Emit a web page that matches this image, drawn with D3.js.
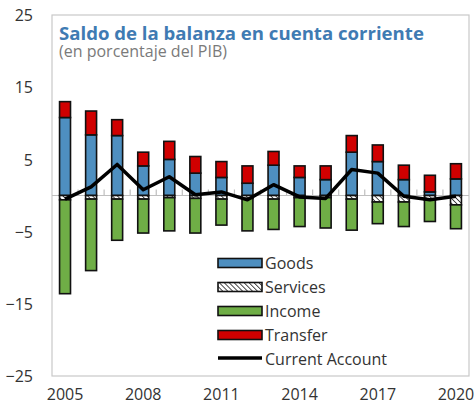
<!DOCTYPE html>
<html>
<head>
<meta charset="utf-8">
<script src="https://cdn.jsdelivr.net/npm/d3@7"></script>
<style>
  html, body { margin: 0; padding: 0; background: #fff; }
  svg { display: block; font-family: "Open Sans", "Noto Sans", sans-serif; }
</style>
</head>
<body>
<svg id="chart" width="476" height="406"></svg>
<script>
// Balance components, % of GDP
const years = ["2005","2006","2007","2008","2009","2010","2011","2012","2013","2014","2015","2016","2017","2018","2019","2020"];
const goods    = [10.8, 8.4, 8.3, 4.1, 5.0, 3.1, 2.5, 1.7, 4.2, 2.5, 2.2, 6.0, 4.7, 2.2, 0.5, 2.3];
const services = [-0.6, -0.5, -0.5, -0.5, -0.3, -0.4, -0.5, -0.4, -0.5, -0.3, -0.3, -0.5, -0.9, -0.9, -0.6, -1.3];
const income   = [-13.0, -9.9, -5.7, -4.7, -4.6, -4.8, -3.6, -4.5, -4.2, -4.0, -4.2, -4.3, -3.0, -3.4, -3.0, -3.3];
const transfer = [2.2, 3.3, 2.2, 1.9, 2.5, 2.3, 2.2, 2.4, 1.9, 1.6, 1.9, 2.3, 2.3, 2.0, 2.3, 2.1];
const currentAccount = [-0.5, 1.2, 4.3, 0.8, 2.6, 0.1, 0.5, -0.6, 1.5, -0.2, -0.4, 3.6, 3.1, -0.1, -0.6, -0.1];
const yTicks = [25, 15, 5, -5, -15, -25];
const xLabels = ["2005","2008","2011","2014","2017","2020"];

const seriesNames = ["Goods", "Services", "Income", "Transfer"];
const seriesColors = { Goods: "#4e8fc0", Services: "url(#hatch)", Income: "#6fae46", Transfer: "#d00000" };
const seriesValues = { Goods: goods, Services: services, Income: income, Transfer: transfer };

const rows = years.map((yr, i) => {
  const r = { year: yr };
  seriesNames.forEach(s => r[s] = seriesValues[s][i]);
  return r;
});

const svg = d3.select("#chart");
const plot = { left: 52, right: 469, top: 15, bottom: 376 };

// Hatch pattern for services
const defs = svg.append("defs");
const pat = defs.append("pattern")
  .attr("id", "hatch")
  .attr("patternUnits", "userSpaceOnUse")
  .attr("width", 3.5).attr("height", 3.5)
  .attr("patternTransform", "rotate(-45)");
pat.append("rect").attr("width", 3.5).attr("height", 3.5).attr("fill", "#fff");
pat.append("line").attr("x1", 0).attr("y1", 0).attr("x2", 0).attr("y2", 3.5)
  .attr("stroke", "#222").attr("stroke-width", 1.6);

const x = d3.scaleBand().domain(years)
  .range([plot.left, plot.right])
  .paddingInner(0.58).paddingOuter(0.29);
const y = d3.scaleLinear().domain([-25, 25]).range([plot.bottom, plot.top]);

// plot frame
svg.append("rect")
  .attr("x", plot.left).attr("y", plot.top)
  .attr("width", plot.right - plot.left).attr("height", plot.bottom - plot.top)
  .attr("fill", "none").attr("stroke", "#c9c9c9").attr("stroke-width", 1.2);

// y labels
const yAxis = d3.axisLeft(y).tickValues(yTicks).tickSize(0).tickPadding(0);
const yg = svg.append("g").attr("transform", "translate(33,0)").call(yAxis);
yg.select(".domain").remove();
yg.selectAll("text").attr("font-size", 16).attr("fill", "#333")
  .attr("font-family", "'Open Sans', sans-serif").attr("dy", "0.35em");

// zero line with category boundary ticks
svg.append("line")
  .attr("x1", plot.left).attr("x2", plot.right)
  .attr("y1", y(0)).attr("y2", y(0))
  .attr("stroke", "#bfbfbf").attr("stroke-width", 1.2);
const step = x.step();
svg.append("g").selectAll("line")
  .data(years.slice(1))
  .join("line")
  .attr("x1", d => x(d) - step * x.paddingInner() / 2)
  .attr("x2", d => x(d) - step * x.paddingInner() / 2)
  .attr("y1", y(0)).attr("y2", y(0) - 6)
  .attr("stroke", "#bfbfbf").attr("stroke-width", 1.2);

// stacked bars
const stack = d3.stack().keys(seriesNames).offset(d3.stackOffsetDiverging);
const layers = stack(rows);
svg.append("g").selectAll("g")
  .data(layers)
  .join("g")
  .attr("fill", d => seriesColors[d.key])
  .selectAll("rect")
  .data(d => d)
  .join("rect")
  .attr("x", d => x(d.data.year))
  .attr("width", x.bandwidth())
  .attr("y", d => y(Math.max(d[0], d[1])))
  .attr("height", d => Math.abs(y(d[0]) - y(d[1])))
  .attr("stroke", "#111").attr("stroke-width", 1.6);

// current account line
const line = d3.line()
  .x((d, i) => x(years[i]) + x.bandwidth() / 2)
  .y(d => y(d));
svg.append("path")
  .datum(currentAccount)
  .attr("d", line)
  .attr("fill", "none").attr("stroke", "#000").attr("stroke-width", 3.5)
  .attr("stroke-linejoin", "round");

// x labels
const xAxis = d3.axisBottom(x).tickValues(xLabels).tickSize(0).tickPadding(0);
const xg = svg.append("g").attr("transform", "translate(0,389)").call(xAxis);
xg.select(".domain").remove();
xg.selectAll("text").attr("font-size", 16).attr("fill", "#333")
  .attr("font-family", "'Open Sans', sans-serif").attr("dy", "0.71em");

// title
svg.append("text").attr("x", 59).attr("y", 40)
  .attr("font-size", 18.6).attr("font-weight", "bold").attr("fill", "#3f7bb3")
  .attr("font-family", "'Open Sans', sans-serif")
  .text("Saldo de la balanza en cuenta corriente");
svg.append("text").attr("x", 59).attr("y", 57)
  .attr("font-size", 16).attr("fill", "#7a7a7a")
  .attr("font-family", "'Open Sans', sans-serif")
  .text("(en porcentaje del PIB)");

// legend
const legendItems = seriesNames.concat(["Current Account"]);
const lg = svg.append("g").attr("transform", "translate(218,263)");
const li = lg.selectAll("g").data(legendItems).join("g")
  .attr("transform", (d, i) => `translate(0,${i * 24})`);
li.filter(d => d !== "Current Account").append("rect")
  .attr("x", 0).attr("y", -4.5).attr("width", 44).attr("height", 9)
  .attr("fill", d => seriesColors[d]).attr("stroke", "#111").attr("stroke-width", 1.6);
li.filter(d => d === "Current Account").append("line")
  .attr("x1", 0).attr("x2", 44).attr("y1", -1).attr("y2", -1)
  .attr("stroke", "#000").attr("stroke-width", 3.5);
li.append("text").attr("x", 47).attr("dy", "0.35em")
  .attr("font-size", 16).attr("fill", "#333")
  .attr("font-family", "'Open Sans', sans-serif")
  .text(d => d);
</script>
</body>
</html>
